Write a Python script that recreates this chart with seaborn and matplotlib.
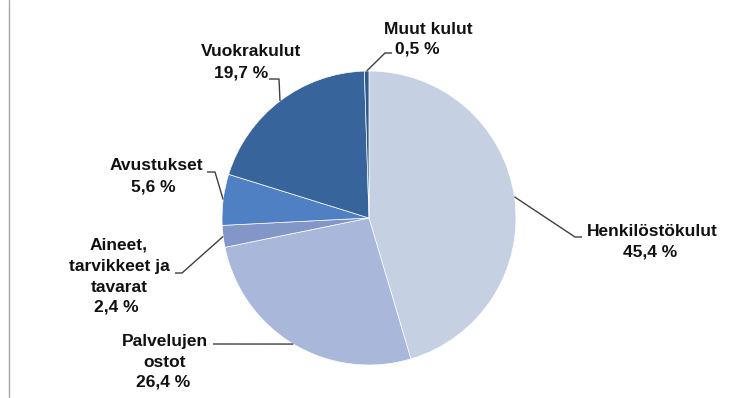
import numpy as np
import matplotlib
matplotlib.use("Agg")
import matplotlib.pyplot as plt
import seaborn as sns

# Expense breakdown (%)
categories = ["Henkilöstökulut", "Palvelujen\nostot", "Aineet,\ntarvikkeet ja\ntavarat",
              "Avustukset", "Vuokrakulut", "Muut kulut"]
shares = [45.4, 26.4, 2.4, 5.6, 19.7, 0.5]
slice_colors = ["#C6D0E3", "#A9B8DA", "#8297C7", "#4E80C3", "#37649A", "#2E5A8E"]

sns.set_theme(style="white")
plt.rcParams["font.family"] = ["Liberation Sans", "DejaVu Sans"]

W, H = 749, 398
fig = plt.figure(figsize=(W / 100, H / 100), dpi=100)
ax = fig.add_axes([0, 0, 1, 1])


def py(y):
    """Convert a top-down pixel row to the axes' bottom-up coordinate."""
    return H - y


cx, cy, r = 369, py(218), 147
palette = sns.color_palette(slice_colors)
wedges, _ = ax.pie(shares, colors=palette, startangle=90, counterclock=False,
                   center=(cx, cy), radius=r,
                   wedgeprops=dict(edgecolor="white", linewidth=0.5))

ax.set_xlim(0, W)
ax.set_ylim(0, H)
ax.set_aspect("auto")
ax.axis("off")

# Label layout: name-block centre, value centre, leader-line path (outer end first)
layout = [
    dict(name=(652, 232), value=(650, 252), path=[(582, 237), (575, 237)]),
    dict(name=(165, 352), value=(163, 382), path=[(213, 344)]),
    dict(name=(119, 266), value=(116, 307), path=[(175, 273), (182, 273)]),
    dict(name=(156, 166), value=(153, 187), path=[(207, 172), (215, 172)]),
    dict(name=(251, 52), value=(241, 73), path=[(269, 79), (279, 79)]),
    dict(name=(428, 29), value=(417, 49), path=[(392, 53), (385, 53)]),
]

fs = 12.5
for w, cat, val, lay in zip(wedges, categories, shares, layout):
    mid = np.deg2rad((w.theta1 + w.theta2) / 2)
    ax_pt = (cx + r * np.cos(mid), cy + r * np.sin(mid))
    xs = [p[0] for p in lay["path"]] + [ax_pt[0]]
    ys = [py(p[1]) for p in lay["path"]] + [ax_pt[1]]
    ax.plot(xs, ys, color="#3F3F3F", lw=1.0, solid_capstyle="butt", zorder=3)
    ax.text(lay["name"][0], py(lay["name"][1]), cat, ha="center", va="center",
            fontsize=fs, fontweight="bold", color="#111111", linespacing=1.5)
    ax.text(lay["value"][0], py(lay["value"][1]),
            f"{val:.1f}".replace(".", ",") + " %", ha="center", va="center",
            fontsize=fs, fontweight="bold", color="#111111")

# Left frame edge
ax.plot([9, 9], [py(397), H], color="#A6A6A6", lw=1.0)

fig.savefig("out.png", dpi=100)
